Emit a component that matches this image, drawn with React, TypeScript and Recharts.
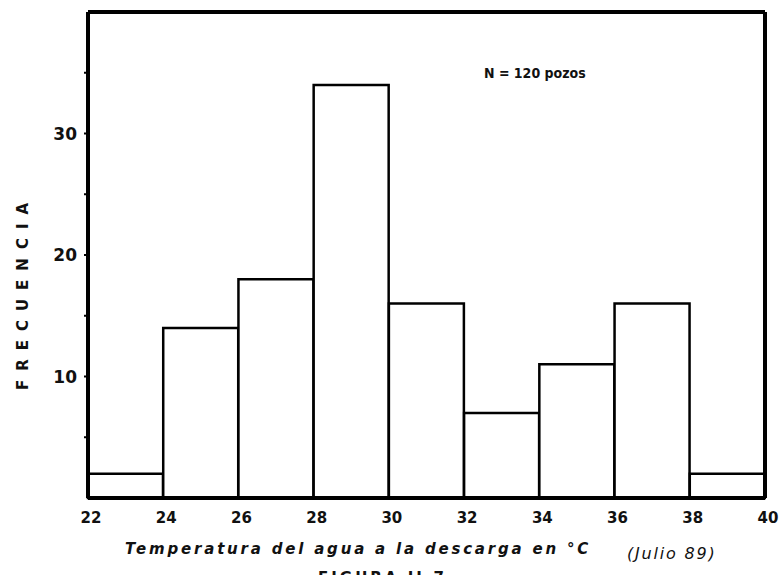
import {
  ComposedChart,
  Bar,
  XAxis,
  YAxis,
} from "recharts";

// clases de temperatura (inicio de cada intervalo, en °C)
const binStarts = [22, 24, 26, 28, 30, 32, 34, 36, 38];
const binWidth = 2;
// frecuencia (numero de pozos) en cada intervalo
const frequencies = [2, 14, 18, 34, 16, 7, 11, 16, 2];
const yTicks = [5, 10, 15, 20, 25, 30, 35];
const yLabelTicks = [10, 20, 30];

const FONT = "'DejaVu Sans', sans-serif";

const data = binStarts.map((start, i) => ({
  bin: `${start}-${start + binWidth}`,
  start,
  freq: frequencies[i],
}));

const YTick = (props: any) => {
  const { x, y, payload } = props;
  if (!yLabelTicks.includes(payload.value)) return null;
  return (
    <text
      x={x - 5}
      y={y + 6}
      textAnchor="end"
      fontFamily={FONT}
      fontWeight="bold"
      fontSize={17}
      fill="#111"
    >
      {payload.value}
    </text>
  );
};

// etiqueta en el borde izquierdo de cada clase (y el limite final en la ultima)
const XTick = (props: any) => {
  const { x, y, payload, index, width } = props;
  const band = (width ?? 678) / data.length;
  const d = data[index];
  const label = (v: number, px: number) => (
    <text
      key={v}
      x={px + 3}
      y={y + 17}
      textAnchor="middle"
      fontFamily={FONT}
      fontWeight="bold"
      fontSize={15}
      fill="#111"
    >
      {v}
    </text>
  );
  if (!d) return null;
  return (
    <g>
      {label(d.start, x - band / 2)}
      {index === data.length - 1 && label(d.start + binWidth, x + band / 2)}
      <title>{payload.value}</title>
    </g>
  );
};

const App = () => {
  return (
    <div
      style={{
        position: "absolute",
        left: 0,
        top: 0,
        width: 781,
        height: 575,
        background: "#fff",
        overflow: "hidden",
      }}
    >
      <ComposedChart
        width={781}
        height={575}
        data={data}
        margin={{ top: 11, right: 15, bottom: 0, left: 0 }}
        barCategoryGap={0}
        barGap={0}
      >
        <XAxis
          dataKey="bin"
          xAxisId="cat"
          axisLine={{ stroke: "#000", strokeWidth: 4 }}
          tickLine={false}
          tick={<XTick />}
          height={77}
          interval={0}
        />
        <XAxis
          dataKey="bin"
          xAxisId="top"
          orientation="top"
          tick={false}
          tickLine={false}
          axisLine={{ stroke: "#000", strokeWidth: 4 }}
          height={1}
        />
        <YAxis
          yAxisId="left"
          type="number"
          domain={[0, 40]}
          ticks={yTicks}
          width={88}
          axisLine={{ stroke: "#000", strokeWidth: 4 }}
          tickLine={{ stroke: "#000", strokeWidth: 2 }}
          tickSize={4}
          tick={<YTick />}
          interval={0}
        />
        <YAxis
          yAxisId="right"
          orientation="right"
          type="number"
          domain={[0, 40]}
          tick={false}
          tickLine={false}
          axisLine={{ stroke: "#000", strokeWidth: 4 }}
          width={1}
        />
        <Bar
          dataKey="freq"
          xAxisId="cat"
          yAxisId="left"
          fill="#fff"
          stroke="#000"
          strokeWidth={2.5}
          isAnimationActive={false}
        />
        <text
          x={484}
          y={78}
          fontFamily="'DejaVu Sans Condensed', 'DejaVu Sans', sans-serif"
          fontWeight="bold"
          fontSize={14}
          fill="#111"
        >
          N = 120 pozos
        </text>
        <text
          x={28}
          y={292}
          transform="rotate(-90 28 292)"
          textAnchor="middle"
          fontFamily={FONT}
          fontWeight="bold"
          fontSize={15}
          letterSpacing={9}
          fill="#111"
        >
          FRECUENCIA
        </text>
        <text
          x={125}
          y={554}
          fontFamily={FONT}
          fontWeight="bold"
          fontStyle="italic"
          fontSize={15}
          letterSpacing={2.8}
          fill="#111"
        >
          Temperatura del agua a la descarga en °C
        </text>
        <text
          x={627}
          y={559}
          fontFamily={FONT}
          fontStyle="italic"
          fontSize={16}
          letterSpacing={1.8}
          fill="#111"
        >
          (Julio 89)
        </text>
        <text
          x={318}
          y={583}
          fontFamily={FONT}
          fontWeight="bold"
          fontSize={15}
          letterSpacing={3}
          fill="#111"
        >
          FIGURA II.7
        </text>
      </ComposedChart>
    </div>
  );
};

export default App;
